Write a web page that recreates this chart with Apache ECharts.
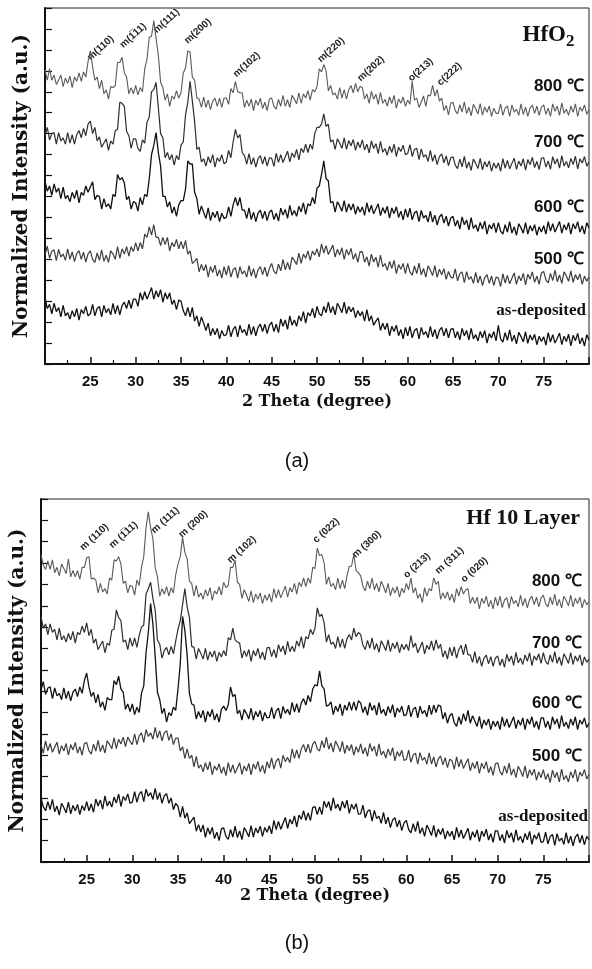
<!DOCTYPE html>
<html>
<head>
<meta charset="utf-8">
<script src="https://cdn.jsdelivr.net/npm/echarts@6/dist/echarts.min.js"></script>
<style>
  html, body { margin: 0; padding: 0; background: #fff; }
  #chart { width: 592px; height: 969px; }
</style>
</head>
<body>
<div id="chart"></div>
<script>
// 2 theta sampling (degree), 0.25 step
const twoTheta = [
  20,20.25,20.5,20.75,21,21.25,21.5,21.75,22,22.25,22.5,22.75,23,23.25,23.5,23.75,24,24.25,24.5,24.75,
  25,25.25,25.5,25.75,26,26.25,26.5,26.75,27,27.25,27.5,27.75,28,28.25,28.5,28.75,29,29.25,29.5,29.75,
  30,30.25,30.5,30.75,31,31.25,31.5,31.75,32,32.25,32.5,32.75,33,33.25,33.5,33.75,34,34.25,34.5,34.75,
  35,35.25,35.5,35.75,36,36.25,36.5,36.75,37,37.25,37.5,37.75,38,38.25,38.5,38.75,39,39.25,39.5,39.75,
  40,40.25,40.5,40.75,41,41.25,41.5,41.75,42,42.25,42.5,42.75,43,43.25,43.5,43.75,44,44.25,44.5,44.75,
  45,45.25,45.5,45.75,46,46.25,46.5,46.75,47,47.25,47.5,47.75,48,48.25,48.5,48.75,49,49.25,49.5,49.75,
  50,50.25,50.5,50.75,51,51.25,51.5,51.75,52,52.25,52.5,52.75,53,53.25,53.5,53.75,54,54.25,54.5,54.75,
  55,55.25,55.5,55.75,56,56.25,56.5,56.75,57,57.25,57.5,57.75,58,58.25,58.5,58.75,59,59.25,59.5,59.75,
  60,60.25,60.5,60.75,61,61.25,61.5,61.75,62,62.25,62.5,62.75,63,63.25,63.5,63.75,64,64.25,64.5,64.75,
  65,65.25,65.5,65.75,66,66.25,66.5,66.75,67,67.25,67.5,67.75,68,68.25,68.5,68.75,69,69.25,69.5,69.75,
  70,70.25,70.5,70.75,71,71.25,71.5,71.75,72,72.25,72.5,72.75,73,73.25,73.5,73.75,74,74.25,74.5,74.75,
  75,75.25,75.5,75.75,76,76.25,76.5,76.75,77,77.25,77.5,77.75,78,78.25,78.5,78.75,79,79.25,79.5,79.75,
  80
];

// (a) HfO2 - stacked (offset) intensities
const aAsDep = [
  3.2,2.65,2.85,2.4,2.9,2.5,2.7,2.25,2.8,2.3,2.45,2.15,2.55,2.25,2.65,2.1,2.6,2.4,2.75,2.3,
  2.4,2.85,2.3,2.65,2.75,2.25,2.8,2.45,2.65,2.35,2.9,2.4,2.8,2.35,2.8,2.95,2.65,3.05,2.65,3.1,
  3.1,2.75,3.4,3.05,3.45,3.1,3.35,3.65,3.1,3.5,3.2,3.55,2.95,3.4,3.1,3.4,2.85,3.05,2.6,3.05,
  3.0,2.55,2.3,2.7,2.25,2.7,2.05,2.3,1.8,2.25,1.95,1.6,1.95,1.35,1.7,1.4,1.7,1.2,1.6,1.35,
  1.4,1.85,1.3,1.65,1.8,1.3,1.85,1.5,1.65,1.35,1.9,1.4,1.8,1.35,1.75,1.9,1.55,1.9,1.45,1.85,
  2.0,1.55,1.9,1.5,2.15,1.8,2.1,1.65,2.3,1.85,2.1,1.8,2.3,2.05,2.5,1.95,2.45,2.3,2.65,2.2,
  2.75,2.4,2.3,2.75,2.45,2.95,2.45,2.75,2.35,2.9,2.7,2.45,2.95,2.4,2.75,2.5,2.7,2.2,2.55,2.3,
  2.5,2.05,2.6,2.05,2.3,1.85,2.05,2.2,1.6,1.95,1.65,1.95,1.35,1.8,1.55,1.85,1.35,1.65,1.2,1.75,
  1.35,1.8,1.25,1.6,1.7,1.2,1.75,1.4,1.55,1.25,1.8,1.3,1.65,1.2,1.6,1.75,1.35,1.7,1.25,1.65,
  1.7,1.25,1.55,1.15,1.7,1.35,1.6,1.15,1.7,1.2,1.4,1.1,1.55,1.25,1.6,1.0,1.45,1.25,1.55,1.1,
  1.85,1.2,1.05,1.5,1.13,1.63,1.08,1.38,0.96,1.51,1.31,1.06,1.54,0.99,1.39,1.14,1.42,0.92,1.32,1.07,
  1.3,0.9,1.5,1.05,1.4,1.0,1.23,1.48,0.93,1.33,1.07,1.42,0.87,1.37,1.11,1.46,0.96,1.26,0.85,1.4,
  1.15
];
const a500 = [
  5.2,5.63,5.05,5.38,5.45,4.94,5.47,5.11,5.25,4.95,5.5,5.0,5.35,4.89,5.27,5.41,5.0,5.34,4.87,5.26,
  5.4,5.0,4.85,5.3,4.95,5.45,4.9,5.2,4.85,5.4,5.25,5.0,5.6,5.05,5.5,5.25,5.6,5.15,5.6,5.37,
  5.8,5.4,5.8,5.5,6.2,6.05,6.55,6.15,6.65,6.05,6.05,5.65,6.05,5.7,6.05,5.4,5.8,5.6,5.95,5.5,
  5.85,5.5,5.9,5.25,5.4,4.8,4.9,5.05,4.4,4.75,4.45,4.75,4.15,4.65,4.37,4.72,4.2,4.5,4.1,4.65,
  4.25,4.7,4.15,4.5,4.6,4.1,4.65,4.3,4.45,4.15,4.7,4.2,4.55,4.1,4.5,4.65,4.27,4.62,4.17,4.57,
  4.8,4.42,4.3,4.77,4.45,5.0,4.5,4.85,4.5,5.1,4.95,4.75,5.3,4.8,5.25,5.05,5.4,4.95,5.4,5.2,
  5.5,5.12,5.74,5.3,5.65,5.23,5.45,5.68,5.1,5.48,5.2,5.55,5.0,5.47,5.2,5.52,5.0,5.28,4.85,5.37,
  5.35,4.86,5.12,4.68,5.25,4.87,5.1,4.62,5.2,4.65,4.8,4.47,4.9,4.57,4.95,4.32,4.75,4.52,4.8,4.32,
  4.8,4.4,4.24,4.68,4.32,4.82,4.26,4.56,4.15,4.69,4.48,4.22,4.7,4.14,4.53,4.26,4.55,4.04,4.42,4.15,
  4.1,4.54,3.97,4.31,4.4,3.88,4.41,4.04,4.17,3.85,4.38,3.87,4.2,3.74,4.13,4.27,3.85,4.2,3.75,4.15,
  4.1,3.7,4.31,3.87,4.23,3.83,4.09,4.35,3.8,4.21,3.97,4.33,3.78,4.29,4.05,4.4,3.9,4.2,3.8,4.35,
  4.42,4.02,3.87,4.33,3.98,4.48,3.93,4.25,3.85,4.4,4.2,3.95,4.45,3.9,4.27,4.02,4.3,3.8,4.2,3.95,
  4.15
];
const a600 = [
  8.75,8.25,8.5,8.05,8.6,8.2,8.4,7.9,8.45,7.9,8.05,7.75,8.2,7.9,8.3,7.7,8.2,8.05,8.5,8.2,
  8.45,8.7,7.85,8.05,8.0,7.4,7.9,7.5,7.65,7.4,8.1,8.0,9.05,8.8,8.9,8.65,7.85,8.0,7.4,7.75,
  7.7,7.3,7.95,7.6,8.1,8.0,8.85,10.0,10.45,11.05,10.1,9.45,8.0,8.0,7.5,7.75,7.2,7.5,7.05,7.6,
  7.8,7.8,8.35,9.7,9.55,9.55,8.2,7.9,7.15,7.55,7.25,6.95,7.45,6.85,7.25,7.0,7.3,6.8,7.2,6.95,
  7.0,7.5,7.05,7.6,7.95,7.55,7.95,7.35,7.35,6.95,7.45,6.9,7.25,6.8,7.2,7.35,6.95,7.3,6.85,7.25,
  7.35,6.9,7.2,6.82,7.44,7.11,7.38,6.95,7.57,7.1,7.33,7.05,7.53,7.26,7.7,7.15,7.65,7.55,7.95,7.65,
  8.4,8.5,9.05,9.7,8.85,8.75,7.7,7.75,7.25,7.75,7.55,7.3,7.8,7.25,7.65,7.35,7.65,7.15,7.52,7.25,
  7.5,7.1,7.7,7.25,7.58,7.17,7.41,7.65,7.09,7.47,7.2,7.53,6.97,7.45,7.18,7.51,7.0,7.3,6.88,7.41,
  7.0,7.44,6.88,7.22,7.3,6.8,7.33,6.97,7.1,6.78,7.3,6.78,7.11,6.64,7.02,7.15,6.73,7.06,6.59,6.97,
  7.05,6.58,6.86,6.44,7.02,6.65,6.88,6.41,6.99,6.47,6.65,6.33,6.76,6.44,6.82,6.2,6.65,6.45,6.73,6.27,
  6.75,6.35,6.2,6.65,6.3,6.8,6.25,6.55,6.15,6.7,6.5,6.25,6.75,6.2,6.6,6.35,6.65,6.15,6.55,6.3,
  6.6,6.2,6.8,6.35,6.7,6.3,6.55,6.8,6.25,6.65,6.4,6.75,6.2,6.7,6.45,6.8,6.3,6.6,6.2,6.75,
  6.5
];
const a700 = [
  10.9,11.3,10.7,11.0,11.05,10.5,11.05,10.65,10.8,10.5,11.05,10.55,10.95,10.5,10.95,11.15,10.8,11.25,10.9,11.45,
  11.6,11.0,11.3,10.65,10.85,10.35,10.55,10.75,10.2,10.65,10.5,11.15,11.2,12.5,12.45,12.3,11.1,10.9,10.3,10.75,
  10.75,10.3,10.15,10.7,10.55,11.55,11.8,13.0,13.1,13.45,12.25,11.0,10.8,9.85,10.1,9.75,10.0,9.5,9.95,9.75,
  10.45,10.6,11.9,12.5,13.5,12.55,11.6,10.25,10.35,9.65,9.8,9.45,9.9,9.6,10.0,9.4,9.85,9.67,9.99,9.56,
  9.65,10.2,9.85,10.6,11.2,10.8,10.95,10.1,9.95,9.55,10.05,9.52,9.85,9.4,9.8,9.95,9.55,9.9,9.45,9.85,
  9.82,9.44,10.06,9.63,10.0,9.62,9.89,10.16,9.65,10.08,9.86,10.25,9.75,10.3,10.1,10.5,10.1,10.5,10.25,11.0,
  11.3,11.3,11.45,11.95,11.35,11.45,10.6,10.7,10.25,10.75,10.55,10.3,10.8,10.25,10.67,10.42,10.72,10.2,10.6,10.33,
  10.7,10.22,10.5,10.08,10.66,10.29,10.52,10.05,10.63,10.11,10.29,9.97,10.4,10.1,10.5,9.9,10.35,10.15,10.45,10.0,
  10.05,10.48,9.91,10.24,10.3,9.76,10.27,9.88,10.0,9.67,10.2,9.68,10.0,9.52,9.9,10.03,9.61,9.94,9.47,9.85,
  9.9,9.5,9.33,9.78,9.41,9.91,9.35,9.65,9.24,9.79,9.58,9.33,9.82,9.27,9.66,9.41,9.7,9.2,9.6,9.35,
  9.6,9.2,9.81,9.36,9.72,9.32,9.58,9.83,9.29,9.69,9.45,9.8,9.26,9.76,9.52,9.87,9.38,9.68,9.28,9.83,
  9.85,9.4,9.7,9.3,9.9,9.55,9.8,9.35,9.95,9.45,9.67,9.37,9.82,9.52,9.92,9.32,9.8,9.6,9.9,9.45,
  9.65
];
const a800 = [
  14.05,13.55,14.1,13.55,13.8,13.35,13.55,13.8,13.25,13.65,13.4,13.75,13.2,13.7,13.5,13.9,13.5,13.95,13.7,14.45,
  14.95,14.2,13.55,13.7,13.15,13.55,12.9,13.1,12.65,13.25,13.2,13.3,14.4,14.4,14.65,13.9,13.7,12.9,13.2,12.9,
  13.3,12.85,13.2,13.0,14.1,14.55,15.6,15.65,16.4,15.55,14.75,13.45,13.2,12.6,12.9,12.3,12.8,12.65,13.05,12.7,
  12.95,13.9,14.15,14.95,14.9,13.7,13.55,12.7,12.65,12.25,12.75,12.25,12.6,12.15,12.55,12.7,12.3,12.7,12.25,12.7,
  12.7,12.4,13.15,12.95,13.5,13.0,12.95,12.95,12.25,12.6,12.3,12.65,12.1,12.6,12.35,12.7,12.2,12.5,12.1,12.65,
  12.7,12.3,12.17,12.64,12.31,12.83,12.3,12.62,12.25,12.83,12.65,12.42,12.95,12.45,12.9,12.7,13.05,12.6,13.1,13.0,
  13.25,14.1,13.95,14.3,14.0,13.05,13.3,12.85,12.95,12.65,13.2,12.7,13.1,12.65,13.1,13.3,12.95,13.4,13.0,13.25,
  13.2,12.65,12.9,12.45,13.02,12.65,12.88,12.4,12.97,12.45,12.63,12.31,12.75,12.44,12.83,12.22,12.66,12.45,12.75,12.3,
  12.6,12.4,13.5,12.6,12.7,12.25,12.5,12.8,12.3,12.85,12.8,13.3,12.8,13.1,12.55,12.7,12.1,12.35,11.9,12.45,
  12.5,12.1,11.94,12.38,12.03,12.52,11.96,12.26,11.85,12.4,12.19,11.94,12.43,11.88,12.28,12.02,12.32,11.82,12.22,11.97,
  11.97,12.42,11.87,12.22,12.32,11.82,12.37,12.02,12.17,11.87,12.42,11.92,12.27,11.82,12.22,12.37,11.97,12.32,11.87,12.27,
  12.37,11.92,12.22,11.82,12.42,12.07,12.32,11.87,12.47,11.97,12.17,11.87,12.32,12.02,12.42,11.82,12.27,12.07,12.37,11.92,
  12.15
];

// (b) Hf 10 Layer
const bAsDep = [
  3.0,2.58,2.4,2.82,2.45,2.93,2.35,2.62,2.2,2.75,2.55,2.3,2.8,2.25,2.65,2.4,2.7,2.22,2.64,2.41,
  2.83,2.4,2.72,2.33,2.95,2.62,2.9,2.47,3.1,2.62,2.85,2.57,3.04,2.76,3.18,2.6,3.07,2.88,3.19,2.75,
  2.8,3.3,2.8,3.18,3.3,2.83,3.41,3.08,3.25,2.93,3.45,2.92,3.25,2.75,3.1,3.2,2.75,3.0,2.45,2.75,
  2.6,2.1,2.6,2.05,2.3,1.8,1.95,2.1,1.45,1.75,1.4,1.73,1.15,1.6,1.3,1.62,1.1,1.4,1.0,1.55,
  1.6,1.2,1.06,1.52,1.17,1.68,1.14,1.45,1.05,1.61,1.42,1.18,1.7,1.17,1.59,1.36,1.68,1.2,1.62,1.39,
  1.7,1.32,1.95,1.52,1.9,1.53,1.81,2.09,1.57,2.0,1.78,2.16,1.65,2.2,2.0,2.4,1.95,2.3,1.95,2.55,
  2.6,2.22,2.58,2.22,2.85,2.55,2.83,2.4,3.0,2.51,2.71,2.4,2.85,2.53,2.9,2.28,2.7,2.47,2.73,2.24,
  2.25,2.66,2.07,2.38,2.45,1.91,2.42,2.03,2.15,1.81,2.32,1.78,2.1,1.61,1.97,2.08,1.65,1.96,1.47,1.83,
  1.95,1.53,1.36,1.79,1.42,1.9,1.33,1.61,1.2,1.73,1.51,1.24,1.72,1.16,1.55,1.29,1.58,1.07,1.46,1.2,
  1.44,1.03,1.62,1.16,1.5,1.1,1.34,1.58,1.02,1.42,1.16,1.51,0.95,1.45,1.19,1.54,1.03,1.33,0.92,1.47,
  1.45,1.0,1.29,0.89,1.48,1.13,1.37,0.92,1.51,1.01,1.2,0.9,1.34,1.04,1.43,0.83,1.27,1.07,1.37,0.92,
  0.95,1.4,0.85,1.19,1.29,0.78,1.33,0.98,1.12,0.82,1.37,0.87,1.21,0.76,1.16,1.31,0.9,1.25,0.8,1.2,
  1.05
];
const b500 = [
  5.5,5.09,5.67,5.21,5.55,5.14,5.37,5.61,5.05,5.45,5.2,5.55,5.0,5.5,5.25,5.6,5.1,5.4,5.0,5.55,
  5.6,5.2,5.05,5.52,5.19,5.7,5.17,5.48,5.1,5.68,5.51,5.3,5.83,5.31,5.75,5.53,5.85,5.4,5.85,5.65,
  5.5,6.0,5.5,5.9,6.05,5.6,6.2,5.88,6.05,5.75,6.3,5.8,6.15,5.67,6.05,6.15,5.7,6.0,5.5,5.8,
  5.8,5.2,5.4,4.85,5.3,4.85,5.0,4.45,4.95,4.4,4.55,4.22,4.65,4.32,4.7,4.08,4.5,4.3,4.6,4.15,
  4.45,4.05,4.65,4.2,4.55,4.15,4.4,4.65,4.1,4.5,4.26,4.62,4.08,4.59,4.35,4.71,4.22,4.53,4.14,4.7,
  4.4,4.88,4.35,4.73,4.85,4.4,5.0,4.7,4.9,4.65,5.3,4.85,5.25,4.85,5.3,5.5,5.15,5.52,5.1,5.52,
  5.65,5.3,5.2,5.68,5.35,5.85,5.28,5.57,5.15,5.67,5.45,5.17,5.65,5.08,5.47,5.21,5.5,5.0,5.4,5.14,
  5.53,5.07,5.36,4.95,5.55,5.19,5.42,4.95,5.53,5.01,5.19,4.87,5.3,4.98,5.36,4.74,5.17,4.95,5.23,4.76,
  4.8,5.24,4.67,5.01,5.1,4.58,5.12,4.76,4.9,4.58,5.11,4.59,4.92,4.45,4.83,4.97,4.55,4.89,4.42,4.81,
  4.75,4.34,4.92,4.46,4.8,4.38,4.61,4.84,4.27,4.65,4.38,4.72,4.15,4.63,4.37,4.7,4.18,4.47,4.06,4.6,
  4.65,4.23,4.07,4.5,4.15,4.63,4.07,4.36,3.95,4.48,4.27,4.0,4.5,3.93,4.32,4.06,4.35,3.83,4.22,3.95,
  4.33,3.86,4.14,3.72,4.3,3.95,4.2,3.75,4.35,3.85,4.05,3.75,4.22,3.93,4.34,3.75,4.21,4.02,4.33,3.89,
  4.1
];
const b600 = [
  8.05,8.45,7.85,8.15,8.2,7.65,8.15,7.78,7.9,7.6,8.15,7.65,8.0,7.55,7.95,8.1,7.75,8.2,7.9,8.5,
  8.85,8.2,7.75,7.95,7.45,7.85,7.25,7.5,7.1,7.7,7.6,7.6,8.5,8.3,8.7,8.1,7.95,7.15,7.4,7.05,
  7.4,6.9,7.25,7.0,7.9,8.25,9.8,10.75,12.1,11.15,9.65,7.95,7.6,6.95,7.2,6.55,7.0,6.85,7.25,7.1,
  8.1,9.3,11.5,10.85,9.7,7.9,7.4,7.35,6.7,7.05,6.75,7.1,6.55,7.05,6.8,7.15,6.65,6.95,6.55,7.15,
  7.3,7.1,7.35,8.2,7.75,7.85,6.95,7.1,6.65,7.15,6.95,6.7,7.2,6.65,7.05,6.8,7.1,6.6,7.0,6.75,
  6.77,7.24,6.71,7.08,7.2,6.72,7.29,6.96,7.15,6.89,7.48,7.02,7.41,7.0,7.45,7.65,7.35,7.8,7.5,8.1,
  8.3,8.25,8.95,8.25,8.1,7.3,7.35,7.5,6.9,7.3,7.05,7.4,6.85,7.35,7.1,7.5,7.1,7.5,7.1,7.55,
  7.45,7.0,7.28,6.87,7.46,7.1,7.34,6.88,7.47,6.96,7.15,6.85,7.29,6.98,7.37,6.77,7.21,7.01,7.3,6.85,
  6.9,7.35,6.8,7.15,7.25,6.75,7.3,6.95,7.1,6.8,7.35,6.9,7.35,7.0,7.35,7.3,6.7,7.0,6.5,6.85,
  6.95,6.52,6.35,6.8,6.45,6.95,6.6,7.1,6.5,6.85,6.6,6.35,6.82,6.25,6.65,6.4,6.7,6.2,6.6,6.35,
  6.6,6.2,6.8,6.35,6.7,6.3,6.55,6.8,6.25,6.65,6.4,6.75,6.2,6.7,6.45,6.8,6.3,6.6,6.2,6.75,
  6.75,6.3,6.6,6.2,6.8,6.45,6.7,6.25,6.85,6.35,6.55,6.25,6.7,6.4,6.8,6.2,6.65,6.45,6.75,6.3,
  6.5
];
const b700 = [
  11.5,10.95,11.15,10.65,11.15,10.75,10.9,10.4,10.95,10.4,10.6,10.3,10.7,10.4,10.8,10.25,10.75,10.65,11.05,10.75,
  11.2,10.6,10.9,10.25,10.45,9.95,10.15,10.35,9.8,10.25,10.15,10.85,10.9,11.8,11.45,11.3,10.3,10.4,9.95,10.5,
  10.1,10.5,10.05,10.6,11.0,11.1,12.55,12.8,13.1,12.35,11.8,10.4,10.2,9.55,9.9,10.05,9.7,10.1,9.75,10.35,
  10.9,11.3,12.05,12.8,11.95,11.45,10.1,10.05,9.5,10.0,9.77,9.5,10.0,9.45,9.85,9.6,9.9,9.4,9.82,9.6,
  9.9,9.65,10.5,10.4,10.95,10.4,10.3,10.25,9.55,9.9,9.62,9.95,9.4,9.9,9.65,10.0,9.52,9.84,9.46,10.03,
  10.05,9.62,9.94,9.56,10.18,9.85,10.12,9.7,10.33,9.85,10.1,9.85,10.35,10.1,10.55,10.0,10.55,10.45,10.9,10.65,
  10.95,11.9,11.5,11.6,11.2,10.3,10.65,10.2,10.3,10.0,10.55,10.05,10.45,10.0,10.45,10.65,10.4,10.95,10.55,10.75,
  10.65,10.15,9.95,10.38,10.01,10.5,9.94,10.23,9.82,10.36,10.15,9.9,10.4,9.85,10.25,10.0,10.3,9.8,10.2,9.95,
  10.2,9.9,10.6,10.05,10.25,9.8,10.05,10.3,9.75,10.15,9.95,10.35,9.9,10.4,10.0,10.2,9.6,9.9,9.5,10.05,
  9.65,10.08,9.55,9.95,10.15,9.7,10.2,9.7,9.7,9.35,9.85,9.3,9.63,9.16,9.55,9.69,9.28,9.62,9.16,9.55,
  9.65,9.2,9.51,9.12,9.73,9.39,9.65,9.21,9.82,9.33,9.54,9.25,9.7,9.4,9.8,9.2,9.65,9.45,9.75,9.3,
  9.8,9.4,9.25,9.7,9.35,9.85,9.3,9.6,9.2,9.75,9.55,9.3,9.8,9.25,9.65,9.4,9.7,9.2,9.6,9.35,
  9.5
];
const b800 = [
  14.4,13.9,13.7,14.1,13.7,14.15,13.55,13.8,13.4,13.95,13.75,13.5,14.2,13.35,13.65,13.35,13.65,13.25,13.8,13.8,
  14.25,14.3,13.25,13.3,13.2,12.6,13.05,12.65,12.8,12.55,13.3,13.2,14.15,14.1,14.3,13.95,13.05,13.15,12.6,12.95,
  12.9,12.5,13.2,12.95,13.8,14.3,15.65,16.4,15.65,15.15,13.8,13.35,12.45,12.8,12.55,12.9,12.45,12.85,12.6,13.45,
  13.95,14.3,15.2,14.5,14.2,13.15,13.05,12.45,12.95,12.4,12.6,12.3,12.75,12.45,12.85,12.25,12.7,12.55,12.9,12.5,
  13.1,12.85,12.95,13.8,13.8,14.15,13.1,13.0,12.35,12.75,12.5,12.2,12.7,12.15,12.55,12.3,12.6,12.1,12.5,12.25,
  12.55,12.17,12.8,12.37,12.75,12.37,12.65,12.92,12.4,12.85,12.65,13.05,12.55,13.1,12.9,13.3,12.9,13.3,13.05,13.8,
  13.75,14.7,14.35,14.4,14.0,13.0,13.35,12.9,13.05,12.75,13.3,12.8,13.2,12.8,13.4,13.85,13.85,14.4,13.65,13.55,
  13.4,12.9,12.7,13.15,12.8,13.3,12.75,13.05,12.65,13.15,12.9,12.6,13.05,12.47,12.85,12.6,12.9,12.4,12.82,12.6,
  13.05,12.75,13.3,12.6,12.85,12.35,12.55,12.15,12.85,12.45,12.8,12.7,13.3,13.0,13.15,12.3,12.6,12.35,12.65,12.25,
  12.55,12.15,12.8,12.45,12.9,12.55,12.75,12.8,12.1,12.4,12.1,12.4,11.85,12.35,12.1,12.45,11.95,12.25,11.85,12.4,
  12.0,12.45,11.91,12.27,12.38,11.88,12.44,12.1,12.25,11.95,12.5,12.0,12.35,11.9,12.3,12.45,12.05,12.4,11.95,12.35,
  12.5,12.1,11.95,12.4,12.05,12.55,12.0,12.3,11.9,12.45,12.25,12.0,12.5,11.95,12.35,12.1,12.4,11.9,12.3,12.05,
  12.2
];

// peak labels: [2theta, y, text]
const aPeaks = [
  [25.2, 14.4, 'm(110)'], [28.8, 15.0, 'm(1\u030511)'], [32.5, 15.7, 'm(111)'],
  [35.9, 15.2, 'm(200)'], [41.3, 13.6, 'm(102)'], [50.6, 14.3, 'm(220)'],
  [55.0, 13.4, 'm(202)'], [60.6, 13.4, 'o(213)'], [63.8, 13.2, 'c(222)']
];
const bPeaks = [
  [24.8, 14.5, 'm (110)'], [28.0, 14.6, 'm (1\u030511)'], [32.6, 15.3, 'm (111)'],
  [35.6, 15.1, 'm (200)'], [40.9, 13.9, 'm (102)'], [50.3, 14.85, 'c (022)'],
  [54.6, 14.15, 'm (300)'], [60.2, 13.2, 'o (213)'], [63.7, 13.4, 'm (311)'],
  [66.5, 13.0, 'o (020)']
];
const tempNames = ['800 \u2103', '700 \u2103', '600 \u2103', '500 \u2103', 'as-deposited'];
const lineColors = ['#5a5a5a', '#2e2e2e', '#111', '#3e3e3e', '#111'];
const lineWidths = [1.1, 1.2, 1.3, 1.2, 1.3];

let chart = echarts.init(document.getElementById('chart'), null, { renderer: 'canvas' });

function pairs(vals) {
  return vals.map((v, i) => [twoTheta[i], v]);
}

function xAxisOf(gridIndex, gap) {
  return {
    type: 'value', gridIndex: gridIndex, min: 20, max: 80, interval: 5,
    axisLine: { lineStyle: { color: '#111', width: 2 } },
    axisTick: { inside: true, length: 7, lineStyle: { color: '#111', width: 1.5 } },
    minorTick: { show: true, splitNumber: 2, length: 4, lineStyle: { color: '#111', width: 1.2 } },
    splitLine: { show: false },
    axisLabel: {
      color: '#111', fontFamily: 'Liberation Sans', fontWeight: 'bold', fontSize: 15, margin: 10,
      formatter: v => (v === 20 || v === 80) ? '' : v
    },
    name: '2 Theta (degree)', nameLocation: 'middle', nameGap: gap,
    nameTextStyle: { color: '#111', fontFamily: 'DejaVu Serif', fontWeight: 'bold', fontSize: 16 }
  };
}

function yAxisOf(gridIndex, gap) {
  return {
    type: 'value', gridIndex: gridIndex, min: 0, max: 17, interval: 1,
    axisLine: { lineStyle: { color: '#111', width: 2 } },
    axisTick: { inside: true, length: 7, lineStyle: { color: '#111', width: 1.2 } },
    axisLabel: { show: false },
    splitLine: { show: false },
    name: 'Normalized Intensity (a.u.)', nameLocation: 'middle', nameGap: gap,
    nameTextStyle: { color: '#111', fontFamily: 'DejaVu Serif', fontWeight: 'bold', fontSize: 20 }
  };
}

const aSets = [a800, a700, a600, a500, aAsDep];
const bSets = [b800, b700, b600, b500, bAsDep];
let series = [];
aSets.forEach((d, k) => series.push({
  type: 'line', xAxisIndex: 0, yAxisIndex: 0, name: 'a ' + tempNames[k], data: pairs(d),
  symbol: 'none', silent: true, lineStyle: { color: lineColors[k], width: lineWidths[k] }
}));
bSets.forEach((d, k) => series.push({
  type: 'line', xAxisIndex: 1, yAxisIndex: 1, name: 'b ' + tempNames[k], data: pairs(d),
  symbol: 'none', silent: true, lineStyle: { color: lineColors[k], width: lineWidths[k] }
}));

chart.setOption({
  animation: false,
  backgroundColor: '#fff',
  grid: [
    { left: 45, top: 8, width: 551, height: 356, show: true, borderColor: '#222', borderWidth: 1 },
    { left: 40.5, top: 499, width: 549, height: 363, show: true, borderColor: '#222', borderWidth: 1 }
  ],
  xAxis: [xAxisOf(0, 30), xAxisOf(1, 24)],
  yAxis: [yAxisOf(0, 13), yAxisOf(1, 13)],
  series: series
});

// text overlays
let els = [];
function peakText(gridIndex, list) {
  list.forEach(p => {
    let pt = chart.convertToPixel({ gridIndex: gridIndex }, [p[0], p[1]]);
    els.push({
      type: 'text', x: pt[0], y: pt[1], rotation: Math.PI * 42 / 180, silent: true,
      style: { text: p[2], font: 'bold 10px "Liberation Sans"', fill: '#222', align: 'left', verticalAlign: 'bottom' }
    });
  });
}
peakText(0, aPeaks);
peakText(1, bPeaks);

function label(txt, x, y, font, align) {
  els.push({
    type: 'text', x: x, y: y, silent: true,
    style: { text: txt, font: font, fill: '#111', align: align || 'right', verticalAlign: 'middle' }
  });
}
const tempFont = 'bold 17px "Liberation Sans"';
const depFont = 'bold 17px "Liberation Serif"';
// (a)
label('HfO', 566, 35, 'bold 23px "Liberation Serif"');
label('2', 566, 42, 'bold 17px "Liberation Serif"', 'left');
[86, 142, 207, 259].forEach((y, k) => label(tempNames[k], 584, y, tempFont));
label(tempNames[4], 586, 311, depFont);
label('(a)', 297, 461, '20px "Liberation Sans"', 'center');
// (b)
label('Hf 10 Layer', 580, 518, 'bold 22px "Liberation Serif"');
[581, 643, 703, 756].forEach((y, k) => label(tempNames[k], 582, y, tempFont));
label(tempNames[4], 588, 817, depFont);
label('(b)', 297, 943, '20px "Liberation Sans"', 'center');

chart.setOption({ graphic: { elements: els } });
</script>
</body>
</html>
